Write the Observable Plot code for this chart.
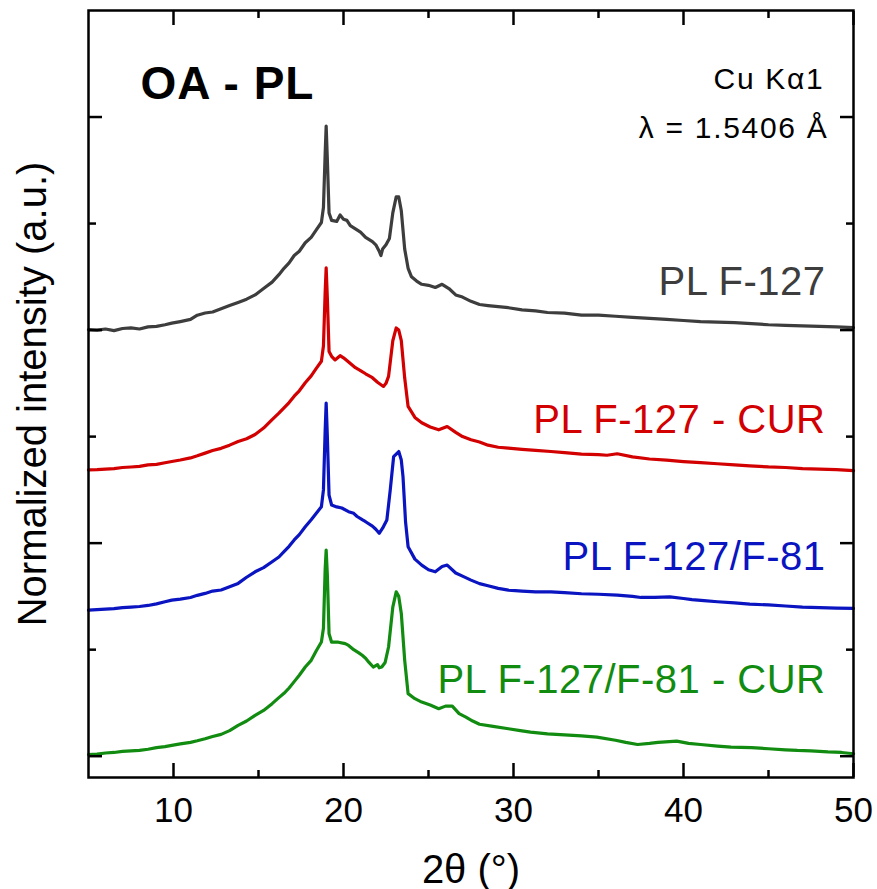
<!DOCTYPE html>
<html><head><meta charset="utf-8">
<script src="https://cdn.jsdelivr.net/npm/d3@7"></script>
<script src="https://cdn.jsdelivr.net/npm/@observablehq/plot@0.6"></script>
<style>html,body{margin:0;padding:0;background:#fff}#chart svg{display:block}</style>
</head><body><div id="chart"></div>
<script>
const seriesNames = ["PL F-127", "PL F-127 - CUR", "PL F-127/F-81", "PL F-127/F-81 - CUR"];
const seriesColors = ["#3d3d3d", "#d20000", "#0a14c0", "#118c11"];
const labelY = [4.334, 3.036, 1.747, 0.59];

// [2theta, normalized intensity (stacked offset)]
const plF127 = [[5,4.005],[5.5,4.0],[6,4.01],[6.5,3.995],[7,4.015],[7.5,4.02],[8,4.01],[8.5,4.03],[9,4.035],[9.5,4.05],[9.9,4.065],[10.4,4.08],[11,4.1],[11.4,4.14],[11.86,4.16],[12.3,4.17],[12.8,4.2],[13.3,4.23],[13.8,4.26],[14.3,4.29],[14.8,4.33],[15.3,4.39],[15.8,4.45],[16.2,4.52],[16.5,4.58],[16.8,4.63],[17.1,4.7],[17.4,4.74],[17.75,4.82],[18.1,4.87],[18.4,4.94],[18.7,5.01],[18.82,5.15],[18.92,5.65],[18.98,5.915],[19.05,5.6],[19.15,5.1],[19.3,5.03],[19.6,5.02],[19.8,5.08],[20.0,5.04],[20.2,5.03],[20.4,4.98],[20.7,4.95],[21.0,4.92],[21.3,4.87],[21.7,4.83],[21.9,4.8],[22.1,4.74],[22.2,4.7],[22.3,4.76],[22.5,4.8],[22.7,4.86],[22.9,5.1],[23.1,5.25],[23.25,5.25],[23.4,5.12],[23.6,4.76],[23.8,4.58],[24.0,4.5],[24.3,4.46],[24.6,4.43],[25.0,4.42],[25.4,4.4],[25.8,4.43],[26.2,4.39],[26.6,4.33],[27.0,4.31],[27.5,4.27],[28.0,4.24],[28.5,4.23],[29.1,4.22],[29.7,4.21],[30.5,4.19],[31.3,4.18],[32,4.165],[33,4.16],[34,4.14],[35,4.14],[36,4.13],[37,4.12],[38,4.11],[39,4.1],[40,4.09],[41,4.08],[42,4.075],[43,4.07],[44,4.06],[45,4.05],[46,4.045],[47,4.04],[48,4.035],[49,4.03],[50,4.024]];
const plF127Cur = [[5,2.688],[5.5,2.69],[6,2.695],[6.5,2.7],[7,2.71],[7.5,2.715],[8,2.72],[8.5,2.735],[9,2.74],[9.5,2.755],[9.9,2.766],[10.4,2.78],[11,2.8],[11.4,2.82],[11.86,2.845],[12.3,2.87],[12.8,2.89],[13.3,2.92],[13.8,2.954],[14.3,2.98],[14.8,3.02],[15.3,3.08],[15.8,3.16],[16.2,3.22],[16.5,3.27],[16.8,3.32],[17.1,3.38],[17.4,3.43],[17.75,3.506],[18.1,3.57],[18.4,3.64],[18.7,3.707],[18.82,3.85],[18.92,4.35],[18.98,4.585],[19.05,4.3],[19.15,3.8],[19.3,3.754],[19.5,3.72],[19.8,3.76],[20.0,3.74],[20.3,3.7],[20.7,3.647],[21.0,3.62],[21.3,3.59],[21.7,3.553],[22.0,3.51],[22.35,3.471],[22.5,3.5],[22.65,3.565],[22.9,3.9],[23.1,4.02],[23.25,4.0],[23.4,3.9],[23.6,3.55],[23.8,3.283],[24.2,3.18],[24.6,3.13],[25.1,3.09],[25.6,3.064],[26.1,3.095],[26.6,3.04],[27.0,3.0],[27.5,2.97],[28.0,2.95],[28.5,2.92],[29.1,2.9],[29.7,2.892],[30.5,2.88],[31.3,2.87],[32.2,2.86],[33,2.85],[34,2.835],[35,2.83],[35.5,2.825],[36.1,2.839],[37,2.81],[38,2.79],[39,2.78],[40,2.766],[41,2.755],[42,2.745],[43,2.735],[43.9,2.725],[45,2.715],[46,2.71],[47,2.7],[48,2.695],[49,2.69],[50,2.681]];
const plF127F81 = [[5,1.371],[5.5,1.375],[6,1.38],[6.5,1.385],[7,1.395],[7.5,1.4],[8,1.405],[8.5,1.415],[9,1.43],[9.5,1.45],[9.9,1.465],[10.4,1.475],[11,1.49],[11.4,1.51],[11.86,1.528],[12.3,1.55],[12.8,1.56],[13.3,1.59],[13.8,1.622],[14.3,1.68],[14.8,1.731],[15.3,1.77],[15.8,1.825],[16.2,1.87],[16.5,1.92],[16.8,1.97],[17.1,2.03],[17.4,2.08],[17.75,2.154],[18.1,2.22],[18.4,2.28],[18.7,2.342],[18.82,2.5],[18.92,3.05],[18.98,3.315],[19.05,3.0],[19.15,2.45],[19.3,2.358],[19.6,2.34],[19.9,2.33],[20.3,2.295],[20.6,2.28],[20.8,2.25],[21.1,2.22],[21.3,2.201],[21.7,2.16],[21.9,2.13],[22.1,2.092],[22.3,2.14],[22.55,2.217],[22.75,2.5],[22.95,2.813],[23.25,2.86],[23.4,2.78],[23.5,2.625],[23.65,2.2],[23.8,1.966],[24.2,1.85],[24.6,1.794],[25.0,1.75],[25.4,1.731],[25.8,1.78],[26.1,1.794],[26.6,1.72],[27.0,1.69],[27.5,1.653],[28.0,1.62],[28.5,1.6],[29.1,1.575],[29.7,1.559],[30.5,1.55],[31.3,1.543],[32.2,1.543],[33,1.535],[34,1.525],[35,1.52],[36.1,1.512],[37,1.5],[37.5,1.49],[38.3,1.49],[39.2,1.496],[40,1.48],[40.5,1.47],[41.2,1.46],[42,1.45],[43,1.44],[43.9,1.427],[45,1.42],[46,1.41],[47,1.4],[48,1.395],[49,1.39],[50,1.387]];
const plF127F81Cur = [[5,0.016],[5.5,0.02],[6,0.03],[6.5,0.035],[7,0.045],[7.5,0.05],[8,0.055],[8.5,0.065],[9,0.08],[9.5,0.09],[9.9,0.101],[10.4,0.115],[11,0.13],[11.4,0.145],[11.86,0.164],[12.3,0.185],[12.8,0.205],[13.3,0.24],[13.8,0.289],[14.3,0.33],[14.8,0.383],[15.3,0.43],[15.8,0.493],[16.2,0.55],[16.5,0.59],[16.8,0.64],[17.1,0.7],[17.4,0.76],[17.75,0.837],[18.1,0.9],[18.4,0.99],[18.7,1.072],[18.82,1.2],[18.92,1.75],[18.98,1.935],[19.05,1.7],[19.15,1.15],[19.3,1.07],[19.7,1.07],[20.1,1.057],[20.3,1.04],[20.6,1.0],[20.9,0.97],[21.1,0.947],[21.3,0.92],[21.5,0.88],[21.75,0.837],[22.0,0.86],[22.1,0.83],[22.25,0.837],[22.45,0.88],[22.65,1.025],[22.9,1.4],[23.1,1.543],[23.25,1.5],[23.4,1.34],[23.6,0.9],[23.8,0.587],[24.2,0.54],[24.6,0.508],[25.1,0.48],[25.6,0.446],[26.0,0.47],[26.4,0.47],[26.8,0.4],[27.2,0.367],[27.6,0.33],[28,0.3],[28.8,0.28],[29.7,0.258],[30.4,0.24],[31,0.226],[32,0.21],[33,0.2],[34,0.19],[34.9,0.179],[36,0.15],[36.6,0.13],[37.3,0.11],[38,0.12],[38.5,0.13],[39.6,0.141],[40.3,0.12],[41,0.11],[42,0.095],[42.8,0.085],[44,0.08],[45,0.07],[46,0.06],[46.7,0.054],[47.5,0.05],[48.5,0.04],[49.3,0.035],[50,0.023]];

const xMajorTicks = [10, 20, 30, 40, 50];
const xMinorTicks = [15, 25, 35, 45];
const yMajorTicks = [0, 2, 4, 6];
const yMinorTicks = [1, 3, 5];

const allSeries = [plF127, plF127Cur, plF127F81, plF127F81Cur];
const rows = [];
allSeries.forEach((s, i) => s.forEach(([t, v]) => rows.push({theta: t, intensity: v, series: seriesNames[i]})));
const labels = seriesNames.map((name, i) => ({name, y: labelY[i], color: seriesColors[i]}));

const FONT = "'Liberation Sans', Arial, Helvetica, sans-serif";
const blank = () => "";
const axW = 2.5;

const chart = Plot.plot({
  width: 877, height: 889,
  marginLeft: 88, marginRight: 24, marginTop: 10, marginBottom: 112,
  style: {fontFamily: FONT, background: "white", color: "black"},
  x: {domain: [5, 50]},
  y: {domain: [-0.2, 7]},
  color: {domain: seriesNames, range: seriesColors},
  marks: [
    Plot.line(rows, {x: "theta", y: "intensity", z: "series", stroke: "series", strokeWidth: 3.2, strokeLinejoin: "round"}),
    Plot.axisX({anchor: "bottom", ticks: xMajorTicks, tickSize: -14, tickPadding: 34, fontSize: 35, label: null, strokeWidth: axW}),
    Plot.axisX({anchor: "bottom", ticks: xMinorTicks, tickSize: -7, tickFormat: blank, label: null, strokeWidth: axW}),
    Plot.axisX({anchor: "top", ticks: xMajorTicks, tickSize: -14, tickFormat: blank, label: null, strokeWidth: axW}),
    Plot.axisX({anchor: "top", ticks: xMinorTicks, tickSize: -7, tickFormat: blank, label: null, strokeWidth: axW}),
    Plot.axisY({anchor: "left", ticks: yMajorTicks, tickSize: -14, tickFormat: blank, label: null, strokeWidth: axW}),
    Plot.axisY({anchor: "left", ticks: yMinorTicks, tickSize: -8, tickFormat: blank, label: null, strokeWidth: axW}),
    Plot.axisY({anchor: "right", ticks: yMajorTicks, tickSize: -14, tickFormat: blank, label: null, strokeWidth: axW}),
    Plot.axisY({anchor: "right", ticks: yMinorTicks, tickSize: -8, tickFormat: blank, label: null, strokeWidth: axW}),
    Plot.frame({stroke: "black", strokeWidth: axW}),
    Plot.text(labels, {x: () => 50, y: "y", text: "name", fill: "color", textAnchor: "end", lineAnchor: "bottom", dx: -28, fontSize: 40}),
    Plot.text(["OA - PL"], {frameAnchor: "top-left", text: d => d, textAnchor: "start", lineAnchor: "bottom", dx: 52, dy: 88, fontSize: 46, fontWeight: "bold"}),
    Plot.text(["Cu K\u03b11"], {frameAnchor: "top-right", text: d => d, textAnchor: "end", lineAnchor: "bottom", dx: -29, dy: 78, fontSize: 30}),
    Plot.text(["\u03bb = 1.5406 \u00c5"], {frameAnchor: "top-right", text: d => d, textAnchor: "end", lineAnchor: "bottom", dx: -25, dy: 127, fontSize: 30}),
    Plot.text(["2\u03b8 (\u00b0)"], {frameAnchor: "bottom", text: d => d, textAnchor: "middle", lineAnchor: "bottom", dy: 105, fontSize: 40}),
    Plot.text(["Normalized intensity (a.u.)"], {frameAnchor: "left", text: d => d, textAnchor: "middle", lineAnchor: "bottom", rotate: -90, dx: -43, fontSize: 40})
  ]
});
// letter spacing tweaks to match the wider glyphs of the original
d3.select(chart).selectAll("text").each(function () {
  const t = this.textContent;
  if (t.startsWith("Cu") || t.startsWith("\u03bb")) this.style.letterSpacing = "1.7px";
  else if (seriesNames.includes(t)) this.style.letterSpacing = "0.5px";
  else if (t === "OA - PL") this.style.letterSpacing = "1px";
});
document.getElementById("chart").appendChild(chart);
</script>
</body></html>
